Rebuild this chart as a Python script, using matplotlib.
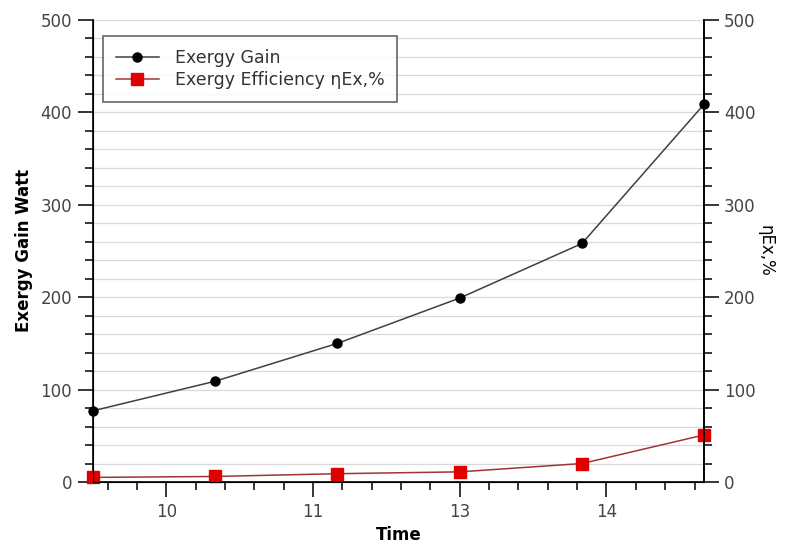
import matplotlib.pyplot as plt
from matplotlib.ticker import MultipleLocator, FixedLocator

# Data
time_hours = [9.5, 10.333, 11.167, 12.0, 12.833, 13.667]
exergy_gain = [77, 109, 150, 199, 258, 409]
exergy_eff = [5, 6, 9, 11, 20, 51]

tick_pos = [10, 11, 12, 13]
tick_labels = ["10", "11", "13", "14"]

fig = plt.figure(figsize=(7.87, 5.49), dpi=100)
ax = fig.add_axes([0.118, 0.122, 0.777, 0.842])

ax.plot(time_hours, exergy_gain, color="#404040", lw=1.1, marker="o",
        markersize=6.5, markerfacecolor="black", markeredgecolor="black",
        label="Exergy Gain", clip_on=False, zorder=4)
ax.plot(time_hours, exergy_eff, color="#a03535", lw=1.1, marker="s",
        markersize=8.5, markerfacecolor="#e00000", markeredgecolor="#e00000",
        label="Exergy Efficiency \u03b7Ex,%", clip_on=False, zorder=4)

ax.set_xlim(time_hours[0], time_hours[-1])
ax.set_ylim(0, 500)

ax.xaxis.set_major_locator(FixedLocator(tick_pos))
ax.set_xticklabels(tick_labels)
ax.xaxis.set_minor_locator(MultipleLocator(0.2))
ax.yaxis.set_major_locator(MultipleLocator(100))
ax.yaxis.set_minor_locator(MultipleLocator(20))

ax.grid(axis="y", which="both", color="#d9d9d9", lw=0.9)
ax.set_axisbelow(True)

ax.spines["top"].set_visible(False)
for s in ["left", "right", "bottom"]:
    ax.spines[s].set_color("black")
    ax.spines[s].set_linewidth(1.2)

ax.tick_params(axis="both", which="major", length=11, width=1.1,
               labelsize=12, labelcolor="#444444", direction="out", pad=4)
ax.tick_params(axis="both", which="minor", length=6, width=1.1, direction="out")

ax.set_xlabel("Time", fontsize=12, fontweight="bold", labelpad=4)
ax.set_ylabel("Exergy Gain Watt", fontsize=12, fontweight="bold", labelpad=5)

# right axis, same scale
ax2 = ax.twinx()
ax2.set_ylim(0, 500)
ax2.yaxis.set_major_locator(MultipleLocator(100))
ax2.yaxis.set_minor_locator(MultipleLocator(20))
ax2.spines["top"].set_visible(False)
ax2.spines["right"].set_linewidth(1.2)
ax2.tick_params(axis="y", which="major", length=11, width=1.1,
                labelsize=12, labelcolor="#444444", pad=3)
ax2.tick_params(axis="y", which="minor", length=6, width=1.1)
ax2.set_ylabel("\u03b7Ex,%", fontsize=12, rotation=270, labelpad=14)

leg = ax.legend(loc="upper left", bbox_to_anchor=(0.016, 0.965), fontsize=12.5,
                frameon=True, fancybox=False, edgecolor="#404040",
                handlelength=2.5, handletextpad=0.9, borderpad=0.75,
                labelspacing=0.25, borderaxespad=0)
leg.get_frame().set_linewidth(1.2)
for t in leg.get_texts():
    t.set_color("#333333")

fig.savefig("out.png", dpi=100)
